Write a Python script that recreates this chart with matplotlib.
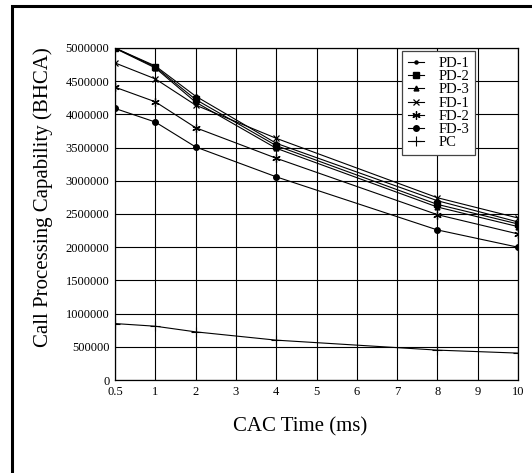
import matplotlib
matplotlib.use('Agg')
import matplotlib.pyplot as plt
from matplotlib.patches import Rectangle

# 데이터
x_ticks = [0.5, 1, 2, 3, 4, 5, 6, 7, 8, 9, 10]
cac_time = [0.5, 1, 2, 4, 8, 10]

pd1 = [5000000, 4730000, 4275000, 3565000, 2700000, 2380000]
pd2 = [5000000, 4715000, 4225000, 3530000, 2645000, 2350000]
pd3 = [4995000, 4700000, 4185000, 3490000, 2605000, 2310000]
fd1 = [4775000, 4535000, 4140000, 3640000, 2745000, 2440000]
fd2 = [4410000, 4190000, 3800000, 3340000, 2490000, 2200000]
fd3 = [4090000, 3885000, 3510000, 3060000, 2260000, 2000000]
pc = [850000, 810000, 725000, 600000, 450000, 405000]

series = [('PD-1', pd1), ('PD-2', pd2), ('PD-3', pd3),
          ('FD-1', fd1), ('FD-2', fd2), ('FD-3', fd3), ('PC', pc)]
y_ticks = list(range(0, 5000001, 500000))

plt.rcParams['font.family'] = ['Liberation Serif', 'DejaVu Serif']

fig = plt.figure(figsize=(5.32, 4.73), dpi=100)
ax = fig.add_axes([115 / 532, 1 - 380 / 473, 403 / 532, 332 / 473])

# 바깥 테두리 (오른쪽/아래는 잘려 있음)
fig.patches.append(Rectangle((12 / 532, -0.2), 1.2, 1.2 - 6 / 473,
                             transform=fig.transFigure, fill=False,
                             edgecolor='black', linewidth=2.2))

# x 축은 눈금 순서대로 같은 간격
xpos = [x_ticks.index(v) for v in cac_time]

styles = {
    'PD-1': dict(marker='o', ms=2.2),
    'PD-2': dict(marker='s', ms=4),
    'PD-3': dict(marker='^', ms=3.5),
    'FD-1': dict(marker='x', ms=5, mew=0.9),
    'FD-2': dict(marker=(6, 2, 0), ms=6, mew=0.9),
    'FD-3': dict(marker='o', ms=4),
    'PC': dict(marker='+', ms=7, mew=0.8),
}

for name, vals in series:
    ax.plot(xpos, vals, color='black', lw=0.8, label=name,
            mfc='black', mec='black', **styles[name])

ax.set_xlim(0, len(x_ticks) - 1)
ax.set_ylim(0, 5000000)
ax.set_xticks(range(len(x_ticks)))
ax.set_xticklabels([str(v) for v in x_ticks], fontsize=9)
ax.set_yticks(y_ticks)
ax.set_yticklabels([str(v) for v in y_ticks], fontsize=9)
ax.tick_params(length=0, pad=4)
ax.grid(True, color='black', lw=0.8)
for s in ax.spines.values():
    s.set_linewidth(0.9)

ax.set_xlabel('CAC Time (ms)', fontsize=15)
ax.xaxis.set_label_coords(0.459, -0.142)
ax.xaxis.label.set_va('center')
ax.set_ylabel('Call Processing Capability (BHCA)', fontsize=15)
ax.yaxis.set_label_coords(-0.179, 0.55)
ax.yaxis.label.set_va('center')

leg = ax.legend(loc='upper right', bbox_to_anchor=(0.893, 0.991),
                borderaxespad=0, fontsize=10.5, labelspacing=0.0,
                handlelength=1.1, handletextpad=1.0, borderpad=0.4,
                fancybox=False, framealpha=1, edgecolor='#444444')
leg.get_frame().set_linewidth(0.9)

fig.savefig('out.png', dpi=100)
